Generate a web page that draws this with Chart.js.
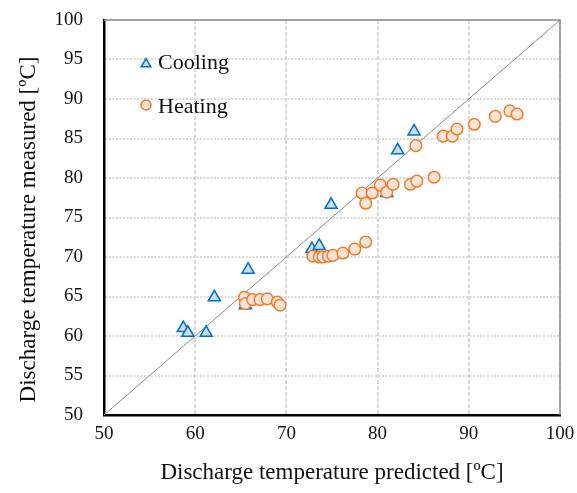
<!DOCTYPE html>
<html>
<head>
<meta charset="utf-8">
<script src="https://cdn.jsdelivr.net/npm/chart.js@4/dist/chart.umd.min.js"></script>
<style>
  html, body { margin: 0; padding: 0; background: #fff; }
  #wrap { width: 577px; height: 493px; }
</style>
</head>
<body>
<div id="wrap"><canvas id="c" width="577" height="493"></canvas></div>
<script>
// Predicted vs measured discharge temperature [ºC]
const coolingX = [58.7, 59.2, 61.2, 62.1, 65.5, 65.8, 72.8, 73.6, 74.9, 81.0, 82.2, 84.0];
const coolingY = [61.0, 60.4, 60.4, 64.9, 63.9, 68.4, 71.0, 71.4, 76.6, 78.1, 83.5, 85.9];

const heatingX = [65.4, 65.5, 66.3, 67.1, 67.9, 69.0, 69.3,
                  72.9, 73.6, 74.0, 74.6, 75.1, 76.2, 77.5, 78.7,
                  78.3, 79.4, 78.7, 80.3, 81.0, 81.7, 83.6, 84.3, 86.2,
                  84.2, 87.2, 88.2, 88.7, 90.6, 92.9, 94.5, 95.3];
const heatingY = [64.9, 64.1, 64.6, 64.6, 64.7, 64.3, 63.9,
                  70.1, 70.0, 70.0, 70.1, 70.2, 70.5, 71.0, 71.9,
                  78.1, 78.1, 76.8, 79.1, 78.2, 79.2, 79.2, 79.6, 80.1,
                  84.1, 85.3, 85.3, 86.2, 86.8, 87.8, 88.5, 88.1];

// 1:1 reference line
const idealX = [50, 100];
const idealY = [50, 100];

const seriesNames = ['Cooling', 'Heating'];
const xTitle = 'Discharge temperature predicted [ºC]';
const yTitle = 'Discharge temperature measured [ºC]';

const toPoints = (xs, ys) => xs.map((x, i) => ({ x: x, y: ys[i] }));

const SERIF = "'Liberation Serif', 'DejaVu Serif', serif";
const TEXT = '#111';
const BLUE = '#0070C0', BLUE_FILL = '#C8DDF0';
const ORANGE = '#ED7D31', ORANGE_FILL = '#FCE4D4';
const NONE = 'rgba(0,0,0,0)';

// Thin grey frame on the top and right of the plot area
const frame = {
  id: 'frame',
  beforeDatasetsDraw(chart) {
    const { ctx, chartArea: a } = chart;
    ctx.save();
    ctx.strokeStyle = '#8c8c8c';
    ctx.lineWidth = 1.5;
    ctx.beginPath();
    ctx.moveTo(a.left, a.top);
    ctx.lineTo(a.right, a.top);
    ctx.lineTo(a.right, a.bottom);
    ctx.stroke();
    ctx.restore();
  }
};

// Vertical axis title, set slightly below the middle of the plot
const yAxisTitle = {
  id: 'yAxisTitle',
  afterDraw(chart) {
    const { ctx, chartArea: a } = chart;
    ctx.save();
    ctx.translate(29, (a.top + a.bottom) / 2 + 12);
    ctx.rotate(-Math.PI / 2);
    ctx.font = '23px ' + SERIF;
    ctx.fillStyle = TEXT;
    ctx.textAlign = 'center';
    ctx.textBaseline = 'middle';
    ctx.fillText(yTitle, 0, 0);
    ctx.restore();
  }
};

// Legend drawn inside the plot, top-left
const innerLegend = {
  id: 'innerLegend',
  afterDatasetsDraw(chart) {
    const { ctx, chartArea: a } = chart;
    const rows = [
      { ds: chart.data.datasets[1], dy: 44, ty: 49, r: 5.5 },
      { ds: chart.data.datasets[0], dy: 85, ty: 93, r: 5 }
    ];
    ctx.save();
    rows.forEach(row => {
      const ds = row.ds;
      ctx.fillStyle = ds.backgroundColor;
      ctx.strokeStyle = ds.borderColor;
      ctx.lineWidth = 1.5;
      Chart.helpers.drawPoint(ctx, { pointStyle: ds.pointStyle, radius: row.r, rotation: 0, borderWidth: 1.5 },
        a.left + 42, a.top + row.dy);
      ctx.fillStyle = TEXT;
      ctx.font = '22px ' + SERIF;
      ctx.textBaseline = 'alphabetic';
      ctx.textAlign = 'left';
      ctx.fillText(ds.label, a.left + 54, a.top + row.ty);
    });
    ctx.restore();
  }
};

new Chart(document.getElementById('c'), {
  type: 'scatter',
  data: {
    datasets: [
      {
        label: seriesNames[1],
        data: toPoints(heatingX, heatingY),
        pointStyle: 'circle',
        pointRadius: 5.8,
        pointHoverRadius: 5.8,
        borderWidth: 1.5,
        borderColor: ORANGE,
        backgroundColor: ORANGE_FILL,
        order: 0
      },
      {
        label: seriesNames[0],
        data: toPoints(coolingX, coolingY),
        pointStyle: 'triangle',
        pointRadius: 7,
        pointHoverRadius: 7,
        borderWidth: 1.5,
        borderColor: BLUE,
        backgroundColor: BLUE_FILL,
        order: 1
      },
      {
        label: '1:1',
        type: 'line',
        data: toPoints(idealX, idealY),
        borderColor: '#8c8c8c',
        borderWidth: 1,
        pointRadius: 0,
        fill: false,
        order: 2
      }
    ]
  },
  options: {
    responsive: false,
    animation: false,
    devicePixelRatio: 1,
    layout: { padding: { top: 20, right: 17, left: 0, bottom: 0 } },
    plugins: {
      legend: { display: false },
      tooltip: { enabled: false }
    },
    scales: {
      x: {
        type: 'linear',
        min: 50, max: 100,
        afterFit(s) { s.height = 78; },
        ticks: { stepSize: 10, padding: 0, color: TEXT, font: { family: SERIF, size: 19 } },
        grid: { color: '#d9d9d9', lineWidth: 2, drawTicks: true, tickLength: 8, tickColor: NONE },
        border: { display: true, color: '#000', width: 2.5, dash: [4, 2] },
        title: { display: true, text: xTitle, color: TEXT, font: { family: SERIF, size: 23 }, padding: { top: 0, bottom: 6 } }
      },
      y: {
        type: 'linear',
        min: 50, max: 100,
        afterFit(s) { s.width = 104; },
        ticks: { stepSize: 5, padding: 0, color: TEXT, font: { family: SERIF, size: 19 } },
        grid: { color: '#d9d9d9', lineWidth: 2, drawTicks: true, tickLength: 21, tickColor: NONE },
        border: { display: true, color: '#000', width: 2.5, dash: [2, 1.5] },
        title: { display: false }
      }
    }
  },
  plugins: [frame, yAxisTitle, innerLegend]
});
</script>
</body>
</html>
